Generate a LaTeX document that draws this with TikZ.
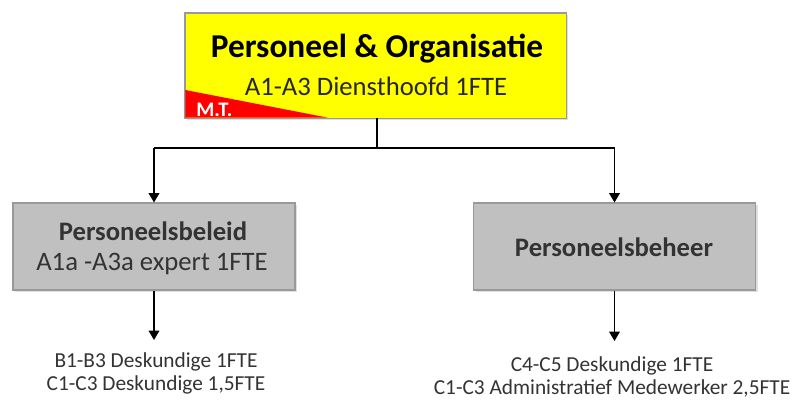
\documentclass[tikz,border=0pt]{standalone}
\usepackage{fontspec}
\setmainfont{Carlito}
\usetikzlibrary{arrows.meta,shadows}
\definecolor{topyellow}{HTML}{FFFF00}
\definecolor{boxgray}{HTML}{C0C0C0}
\definecolor{edgegray}{HTML}{999999}
\definecolor{mtred}{HTML}{FF0000}
\definecolor{txtgray}{HTML}{333333}
\tikzset{
  topbox/.style={draw=edgegray, line width=0.6pt, fill=topyellow, minimum width=381*0.75pt, minimum height=105*0.75pt, inner sep=0pt, drop shadow={shadow xshift=1.5pt, shadow yshift=-1.5pt, opacity=0.25}},
  graybox/.style={draw=edgegray, line width=0.8pt, fill=boxgray, minimum width=282*0.75pt, minimum height=87*0.75pt, inner sep=0pt, drop shadow={shadow xshift=1.5pt, shadow yshift=-1.5pt, opacity=0.25}},
  conn/.style={line width=0.9pt, black},
  arr/.style={conn, -{Triangle[width=8pt,length=7pt]}},
  staff/.style={align=center, text=txtgray, font=\fontsize{16pt}{17.3pt}\selectfont, inner sep=0pt}
}
\begin{document}
\begin{tikzpicture}[x=0.75pt,y=-0.75pt]
\useasboundingbox (0,0) rectangle (798,404);
% top box
\node[topbox] (po) at (375.5,65.5) {};
\fill[mtred] (185.3,90) -- (185.3,117.7) -- (328,117.7) -- cycle;
\node[font=\bfseries\fontsize{15.5pt}{17pt}\selectfont, text=white, anchor=base west, inner sep=0pt] (mt) at (196,116.5) {M.T.};
\draw[edgegray, line width=0.6pt] (po.south west) rectangle (po.north east);
\node[font=\bfseries\fontsize{25pt}{27pt}\selectfont, text=black, inner sep=0pt] (potitle) at (377,49) {Personeel \& Organisatie};
\node[font=\fontsize{20pt}{22pt}\selectfont, text=black!85, inner sep=0pt] (posub) at (376,86) {A1-A3 Diensthoofd 1FTE};
% gray boxes
\node[graybox] (pb) at (154,246.5) {};
\node[font=\bfseries\fontsize{20pt}{22pt}\selectfont, text=txtgray, inner sep=0pt] (pbtitle) at (153,231) {Personeelsbeleid};
\node[font=\fontsize{20pt}{22pt}\selectfont, text=txtgray, inner sep=0pt] (pbsub) at (152,264) {A1a -A3a expert 1FTE};
\node[graybox] (ph) at (614.5,246.5) {};
\node[font=\bfseries\fontsize{20pt}{22pt}\selectfont, text=txtgray, inner sep=0pt] (phtitle) at (614,247) {Personeelsbeheer};
% connectors
\coordinate (split) at (377,148);
\coordinate (sl) at (154,148);
\coordinate (sr) at (614.5,148);
\draw[conn] (po.south -| split) -- (split);
\draw[conn] (sl) -- (sr);
\draw[arr] (sl) -- (pb.north);
\draw[arr] (sr) -- (ph.north);
% staff texts
\node[staff] (pbstaff) at (156,373) {B1-B3 Deskundige 1FTE\\C1-C3 Deskundige 1,5FTE};
\node[staff] (phstaff) at (612,377) {C4-C5 Deskundige 1FTE\\C1-C3 Administratief Medewerker 2,5FTE};
\draw[arr] (pb.south) -- (154,340);
\draw[arr] (ph.south) -- (614.5,341);
\end{tikzpicture}
\end{document}
